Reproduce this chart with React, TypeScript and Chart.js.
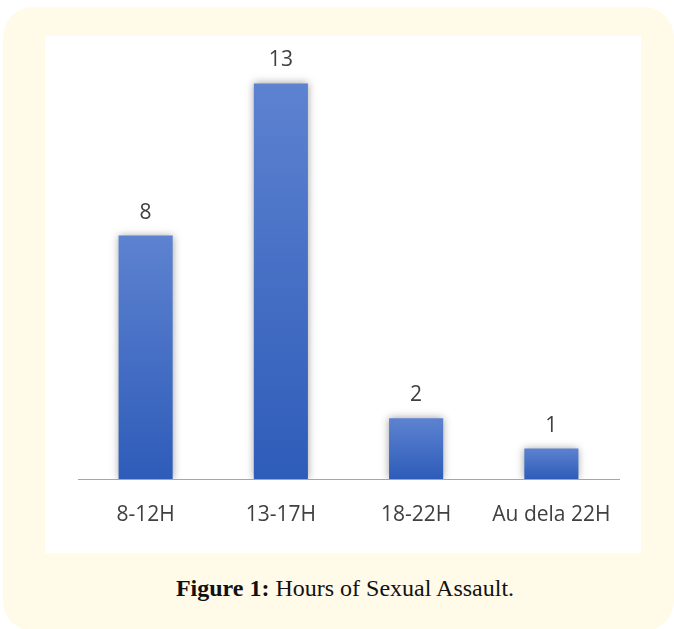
import React, { useEffect, useRef } from "react";
import { Chart, registerables } from "chart.js";

Chart.register(...registerables);

const categories = ["8-12H", "13-17H", "18-22H", "Au dela 22H"];
const values = [8, 13, 2, 1];
const yMax = 14;

const shadowPlugin = {
  id: "barShadow",
  beforeDatasetsDraw(chart: any) {
    const ctx = chart.ctx;
    ctx.save();
    ctx.shadowColor = "rgba(0,0,0,0.38)";
    ctx.shadowBlur = 8;
    ctx.shadowOffsetX = 0;
    ctx.shadowOffsetY = 0;
  },
  afterDatasetsDraw(chart: any) {
    chart.ctx.restore();
  },
};

const valueLabelPlugin = {
  id: "valueLabels",
  afterDraw(chart: any) {
    const ctx = chart.ctx;
    const meta = chart.getDatasetMeta(0);
    ctx.save();
    ctx.font = "21px 'Open Sans'";
    ctx.fillStyle = "#404040";
    ctx.textAlign = "center";
    ctx.textBaseline = "middle";
    meta.data.forEach((bar: any, i: number) => {
      ctx.fillText(String(values[i]), bar.x, bar.y - 23);
    });
    ctx.restore();
  },
};

export default function App() {
  const canvasRef = useRef<HTMLCanvasElement | null>(null);

  useEffect(() => {
    if (!canvasRef.current) return;
    const chart = new Chart(canvasRef.current, {
      type: "bar",
      data: {
        labels: categories,
        datasets: [
          {
            data: values,
            backgroundColor: (c: any) => {
              const area = c.chart.chartArea;
              const yScale = c.chart.scales && c.chart.scales.y;
              if (!area || !yScale || c.type !== "data") return "#3f6cc4";
              const top = yScale.getPixelForValue(values[c.dataIndex]);
              const g = c.chart.ctx.createLinearGradient(0, top, 0, area.bottom);
              g.addColorStop(0, "#5d82d0");
              g.addColorStop(1, "#2e5cb9");
              return g;
            },
            barPercentage: 0.4,
            categoryPercentage: 1,
            borderWidth: 0,
          },
        ],
      },
      options: {
        animation: false,
        responsive: true,
        maintainAspectRatio: false,
        layout: { padding: { left: 33, right: 22, top: 17, bottom: 0 } },
        plugins: {
          legend: { display: false },
          tooltip: { enabled: false },
        },
        scales: {
          y: { display: false, min: 0, max: yMax },
          x: {
            grid: { display: false },
            border: { display: true, color: "#a6a6a6", width: 1 },
            ticks: {
              color: "#404040",
              font: { family: "'Open Sans'", size: 21 },
              padding: 15,
              maxRotation: 0,
            },
            afterFit: (axis: any) => {
              axis.height = 74;
            },
          },
        },
      },
      plugins: [shadowPlugin, valueLabelPlugin],
    });
    return () => chart.destroy();
  }, []);

  return (
    <div
      style={{
        position: "absolute",
        left: 0,
        top: 0,
        width: 674,
        height: 629,
        background: "#ffffff",
        overflow: "hidden",
      }}
    >
      <div
        style={{
          position: "absolute",
          left: 3,
          top: 7,
          width: 671,
          height: 624,
          background: "#fffbe8",
          borderRadius: 30,
        }}
      />
      <div
        style={{
          position: "absolute",
          left: 45,
          top: 36,
          width: 596,
          height: 517,
          background: "#ffffff",
        }}
      >
        <canvas ref={canvasRef} />
      </div>
      <div
        style={{
          position: "absolute",
          left: 0,
          top: 576,
          width: 690,
          textAlign: "center",
          fontFamily: "'Liberation Serif', serif",
          fontSize: 24,
          lineHeight: "24px",
          color: "#111111",
          whiteSpace: "nowrap",
        }}
      >
        <b>Figure 1:</b> Hours of Sexual Assault.
      </div>
    </div>
  );
}
